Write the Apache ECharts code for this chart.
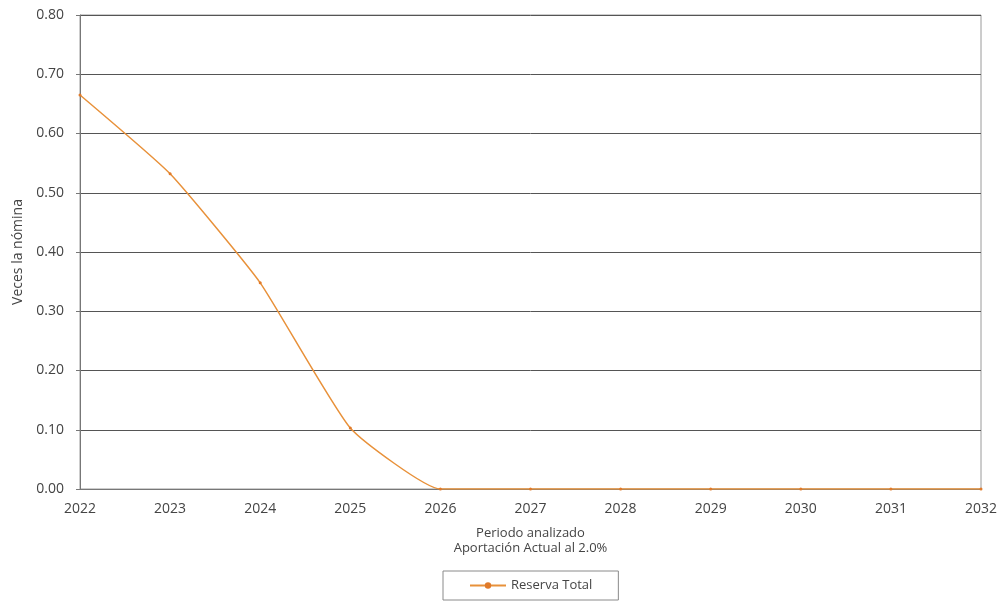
<!DOCTYPE html>
<html><head><meta charset="utf-8">
<script src="https://cdn.jsdelivr.net/npm/echarts@6/dist/echarts.min.js"></script>
<style>html,body{margin:0;padding:0;background:#fff}#c{width:1005px;height:605px}</style>
</head><body><div id="c"></div>
<script>
const years = ['2022','2023','2024','2025','2026','2027','2028','2029','2030','2031','2032'];
const reservaTotal = [0.665, 0.532, 0.348, 0.103, 0, 0, 0, 0, 0, 0, 0];
const yTicks = [0, 0.1, 0.2, 0.3, 0.4, 0.5, 0.6, 0.7, 0.8];

const chart = echarts.init(document.getElementById('c'));
const font = 'Open Sans, Lato, sans-serif';
chart.setOption({
  animation: false,
  grid: { left: 80, right: 24, top: 15, bottom: 116, containLabel: false, outerBoundsMode: 'none',
    show: true, borderColor: '#9a9a9a', borderWidth: 1 },
  legend: {
    bottom: 5, left: 443, itemWidth: 36, itemHeight: 8, itemGap: 4,
    padding: [8, 26, 8, 26], borderColor: '#8a8a8a', borderWidth: 1,
    textStyle: { fontFamily: font, fontSize: 13, color: '#444' },
    data: ['Reserva Total']
  },
  xAxis: {
    type: 'category', data: years, boundaryGap: false,
    name: 'Periodo analizado\nAportación Actual al 2.0%', nameLocation: 'middle', nameGap: 37,
    nameTextStyle: { fontFamily: font, fontSize: 13, color: '#444', lineHeight: 15 },
    axisLine: { lineStyle: { color: '#777' } },
    axisTick: { show: false },
    axisLabel: { fontFamily: font, fontSize: 14, color: '#444', margin: 13 },
    splitLine: { show: false }
  },
  yAxis: {
    type: 'value', min: yTicks[0], max: yTicks[yTicks.length - 1], interval: 0.1,
    name: 'Veces la nómina', nameLocation: 'middle', nameGap: 54,
    nameTextStyle: { fontFamily: font, fontSize: 14, color: '#444' },
    axisLine: { show: true, lineStyle: { color: '#777' } },
    axisTick: { show: true, length: 4, lineStyle: { color: '#777' } },
    axisLabel: { fontFamily: font, fontSize: 14, color: '#444', margin: 16,
      formatter: v => v.toFixed(2) },
    splitLine: { lineStyle: { color: '#555', width: 1 } }
  },
  series: [{
    name: 'Reserva Total', type: 'line', data: reservaTotal, smooth: 0.15,
    symbol: 'circle', symbolSize: 3,
    lineStyle: { color: '#e8913a', width: 1.5 },
    itemStyle: { color: '#e07a2a' }
  }]
});
</script></body></html>
